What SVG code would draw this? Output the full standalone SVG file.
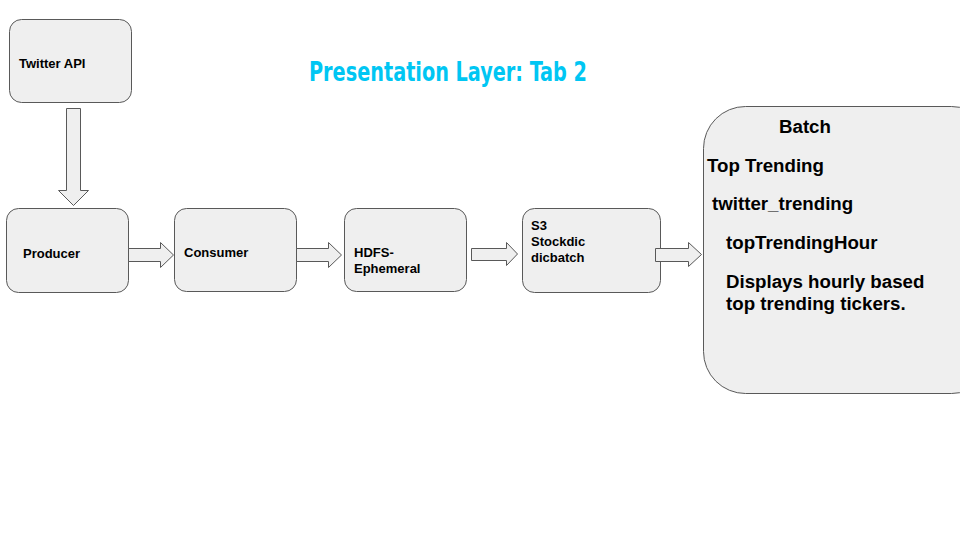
<svg xmlns="http://www.w3.org/2000/svg" width="960" height="540" viewBox="0 0 960 540">
<style>
.box{fill:#efefef;stroke:#595959;stroke-width:1}
.arr{fill:#efefef;stroke:#595959;stroke-width:1}
.t{font-family:"Liberation Sans",Arial,sans-serif;font-weight:bold;font-size:13px;fill:#000}
.b{font-family:"Liberation Sans",Arial,sans-serif;font-weight:bold;font-size:18.7px;fill:#000}
.title{font-family:"DejaVu Sans Condensed","DejaVu Sans",sans-serif;font-weight:bold;font-size:27px;fill:#00c6f3}
</style>
<rect width="960" height="540" fill="#fff"/>
<text class="title" x="309" y="81" textLength="278" lengthAdjust="spacingAndGlyphs">Presentation Layer: Tab 2</text>
<g id="twitter-api"><rect class="box" x="9.5" y="19.5" width="122" height="83" rx="12"/><text class="t" x="19" y="68">Twitter API</text></g>
<g id="producer"><rect class="box" x="6.5" y="208.5" width="122" height="84" rx="12"/><text class="t" x="23" y="258">Producer</text></g>
<g id="consumer"><rect class="box" x="174.5" y="208.5" width="122" height="83" rx="12"/><text class="t" x="184" y="257">Consumer</text></g>
<g id="hdfs"><rect class="box" x="344.5" y="208.5" width="122" height="83" rx="12"/><text class="t" x="354" y="257">HDFS-</text><text class="t" x="354" y="273">Ephemeral</text></g>
<g id="s3"><rect class="box" x="522.5" y="208.5" width="138" height="84" rx="12"/><text class="t" x="531" y="230">S3</text><text class="t" x="531" y="246">Stockdic</text><text class="t" x="531" y="262">dicbatch</text></g>
<g id="batch"><rect class="box" x="703.5" y="106.5" width="290" height="287" rx="42"/>
<text class="b" x="779" y="133">Batch</text>
<text class="b" x="707" y="172">Top Trending</text>
<text class="b" x="712" y="210">twitter_trending</text>
<text class="b" x="726" y="249">topTrendingHour</text>
<text class="b" x="726" y="288">Displays hourly based</text>
<text class="b" x="726" y="310">top trending tickers.</text></g>
<g id="connectors">
<polygon class="arr" points="66.5,108.5 80.5,108.5 80.5,190.5 88.5,190.5 73.5,205.5 58.5,190.5 66.5,190.5"/>
<polygon class="arr" points="128.5,248.5 160.5,248.5 160.5,242.5 173.5,255 160.5,267.5 160.5,261.5 128.5,261.5"/>
<polygon class="arr" points="296.5,248.5 328.5,248.5 328.5,242.5 341.5,255 328.5,267.5 328.5,261.5 296.5,261.5"/>
<polygon class="arr" points="471.5,248.5 506.5,248.5 506.5,242.5 517.5,254 506.5,265.5 506.5,260.5 471.5,260.5"/>
<polygon class="arr" points="655.5,248.5 688.5,248.5 688.5,242.5 701.5,254.5 688.5,266.5 688.5,261.5 655.5,261.5"/>
</g>
</svg>
